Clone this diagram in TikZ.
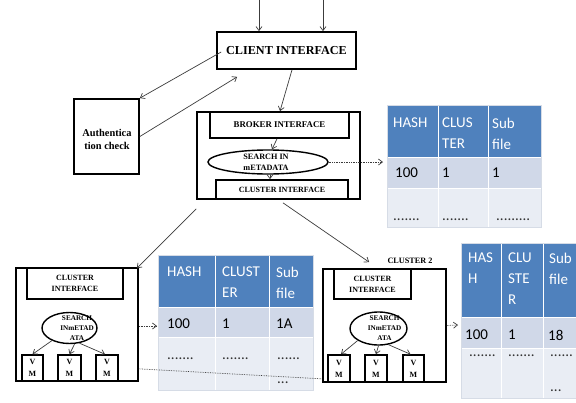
\documentclass[tikz,border=0pt]{standalone}
\usepackage{fontspec}
\setmainfont{Liberation Serif}
\newfontfamily\tabfont{Carlito}
\usetikzlibrary{arrows.meta,shapes.geometric,calc}
\definecolor{hdrblue}{HTML}{4F81BD}
\definecolor{rowa}{HTML}{D0D8E8}
\definecolor{rowb}{HTML}{E9EDF4}
\definecolor{wire}{HTML}{3C3C3C}
\definecolor{tabedge}{HTML}{D6DCE6}

\begin{document}
\begin{tikzpicture}[x=1pt,y=-1pt,
  box/.style={draw=black, line width=1.7pt, rectangle, inner sep=0pt, align=center},
  vmbox/.style={box, line width=1.5pt, minimum height=26pt, font=\bfseries\fontsize{8}{12}\selectfont},
  oval/.style={draw=black, line width=1.4pt, ellipse, inner sep=0pt},
  txt/.style={inner sep=0pt, align=center},
  link/.style={draw=wire, line width=0.7pt, -{Straight Barb[length=4pt,width=6pt]}},
  dotlink/.style={link, densely dotted},
  hdr/.style={inner sep=0pt, anchor=north west, align=left, text=white, font=\tabfont\fontsize{15}{21}\selectfont},
  cell/.style={inner sep=0pt, anchor=west, text=black, font=\tabfont\fontsize{15}{21}\selectfont},
  dots/.style={inner sep=0pt, anchor=north west, align=left, text=black!80, font=\tabfont\fontsize{15}{21}\selectfont},
]
\useasboundingbox (0,0) rectangle (576,402);
\fill[white] (0,0) rectangle (576,402);

% ---------------- client and authentication ----------------
\node[box, minimum width=139pt, minimum height=37pt, font=\bfseries\fontsize{12.2}{14}\selectfont] (client) at (286.5,50.5) {CLIENT INTERFACE};
\coordinate (inA) at (259,0);
\coordinate (inB) at (323,0);
\draw[link] (inA) -- (inA |- client.north);
\draw[link] (inB) -- (inB |- client.north);

\node[box, minimum width=65pt, minimum height=75pt] (auth) at (106.5,136.5) {};
\node[txt, font=\bfseries\fontsize{10.4}{13.5}\selectfont] (authtext) at (107,139.5) {Authentica\\tion check};

\draw[link] ($(client.west)+(5,1.5)$) -- (auth.north east);
\draw[link] ($(auth.east)+(0,0)$) -- ($(client.south west)+(21,7)$);

% ---------------- broker ----------------
\node[box, minimum width=163pt, minimum height=87pt] (broker) at (278.5,155.5) {};
\node[box, minimum width=139pt, minimum height=26pt, font=\bfseries\fontsize{8.8}{10}\selectfont] (brokerif) at (279.5,125) {BROKER INTERFACE};
\node[box, minimum width=132pt, minimum height=19pt, font=\bfseries\fontsize{8}{10}\selectfont] (bclusterif) at (282,189.5) {CLUSTER INTERFACE};
\node[oval, minimum width=120pt, minimum height=24pt] (bsearch) at (268,162) {};
\node[txt, font=\bfseries\fontsize{8.2}{11}\selectfont] (bsearchtext) at (266,162.5) {SEARCH IN\\mETADATA};

\draw[link] ($(client.south)+(5.5,0)$) -- ($(broker.north)+(1.5,0)$);
\draw[link] ($(brokerif.south)+(-2.5,0)$) -- ($(bsearch.north)+(4,0)$);
\draw[link] ($(bsearch.south)+(2,0)$) -- ($(bclusterif.north)+(-12,0)$);

% ---------------- table of the broker ----------------
\fill[hdrblue] (387,105) rectangle (541,157);
\fill[rowa] (387,157) rectangle (541,188);
\fill[rowb] (387,188) rectangle (541,227);
\draw[white, line width=1pt] (438,105) -- (438,227) (488,105) -- (488,227) (387,157) -- (541,157) (387,188) -- (541,188);
\draw[tabedge, line width=0.6pt] (387,105) rectangle (541,227);
\node[hdr] (t1h1) at (393,117.5) {HASH};
\node[hdr] (t1h2) at (442,117.5) {CLUS\\TER};
\node[hdr] (t1h3) at (492,117.5) {Sub\\file};
\node[cell] (t1a1) at (395,173) {100};
\node[cell] (t1a2) at (442,173) {1};
\node[cell] (t1a3) at (492,173) {1};
\node[dots] (t1b1) at (393,219) {.......};
\node[dots] (t1b2) at (442,219) {.......};
\node[dots] (t1b3) at (496,219) {.........};
\coordinate (t1in) at (383,162);
\draw[dotlink] (bsearch.east) -- (t1in);

% ---------------- cluster 1 ----------------
\node[box, minimum width=122pt, minimum height=113pt] (c1) at (77,324.5) {};
\node[box, minimum width=96pt, minimum height=31pt, font=\bfseries\fontsize{8}{11}\selectfont] (c1if) at (75,283.5) {CLUSTER\\INTERFACE};
\node[oval, minimum width=55pt, minimum height=31pt] (c1search) at (69.5,328) {};
\node[txt, font=\bfseries\fontsize{7.2}{10}\selectfont] (c1searchtext) at (77,328) {SEARCH\\INmETAD\\ATA};
\node[vmbox, minimum width=21pt] (c1vm1) at (32.5,368) {V\\M};
\node[vmbox, minimum width=23pt] (c1vm2) at (69.5,368) {V\\M};
\node[vmbox, minimum width=22pt] (c1vm3) at (107,368) {V\\M};
\draw[link] ($(c1search.south)+(-17,-4)$) -- (c1vm1.north);
\draw[link] ($(c1search.south)+(5,0)$) -- (c1vm2.north);
\draw[link] ($(c1search.south)+(10,-1)$) -- ($(c1vm3.north)+(-2,0)$);

\draw[link] ($(broker.south west)+(0,9)$) -- ($(c1.north east)+(-2,1)$);

% ---------------- table of cluster 1 ----------------
\fill[hdrblue] (158,255) rectangle (313,307);
\fill[rowa] (158,307) rectangle (313,337);
\fill[rowb] (158,337) rectangle (313,390);
\draw[white, line width=1pt] (215,255) -- (215,390) (269,255) -- (269,390) (158,307) -- (313,307) (158,337) -- (313,337);
\draw[tabedge, line width=0.6pt] (158,255) rectangle (313,390);
\node[hdr] (t2h1) at (167,266.5) {HASH};
\node[hdr] (t2h2) at (222,266.5) {CLUST\\ER};
\node[hdr] (t2h3) at (276,266.5) {Sub\\file};
\node[cell] (t2a1) at (167,324) {100};
\node[cell] (t2a2) at (222,324) {1};
\node[cell] (t2a3) at (276,324) {1A};
\node[dots] (t2b1) at (167,358) {.......};
\node[dots] (t2b2) at (222,358) {.......};
\node[dots] (t2b3) at (277,358) {......\\[3pt]...};
\coordinate (t2in) at (157,326);
\draw[dotlink] ($(c1.east)+(0,1.5)$) -- (t2in);

% ---------------- cluster 2 ----------------
\node[box, minimum width=123pt, minimum height=113pt] (c2) at (384.5,325.5) {};
\node[txt, font=\bfseries\fontsize{8.2}{10}\selectfont] (c2label) at (410,261) {CLUSTER 2};
\node[box, minimum width=77pt, minimum height=30pt, font=\bfseries\fontsize{8}{11}\selectfont] (c2if) at (372.5,284) {CLUSTER\\INTERFACE};
\node[oval, minimum width=57pt, minimum height=33pt] (c2search) at (378.5,328.5) {};
\node[txt, font=\bfseries\fontsize{7.2}{10}\selectfont] (c2searchtext) at (384.5,328.5) {SEARCH\\INmETAD\\ATA};
\node[vmbox, minimum width=22pt, minimum height=27pt] (c2vm1) at (339,368.5) {V\\M};
\node[vmbox, minimum width=22pt, minimum height=27pt] (c2vm2) at (376,368.5) {V\\M};
\node[vmbox, minimum width=21pt, minimum height=27pt] (c2vm3) at (413.5,368.5) {V\\M};
\draw[link] ($(c2search.south)+(-21,-5)$) -- ($(c2vm1.north)+(2,0)$);
\draw[link] ($(c2search.south)+(0,0)$) -- (c2vm2.north);
\draw[link] ($(c2search.south)+(10,-1)$) -- ($(c2vm3.north)+(-3,0)$);

\draw[link] ($(broker.south)+(4.5,3)$) -- ($(c2.north west)+(47,-6)$);

% dotted link between the two clusters
\draw[draw=wire, line width=0.7pt, densely dotted] ($(c1.south east)+(0,-13)$) -- ($(c2.south west)+(0,-4)$);

% ---------------- table of cluster 2 ----------------
\fill[hdrblue] (461,243) rectangle (578,317);
\fill[rowa] (461,317) rectangle (578,348);
\fill[rowb] (461,348) rectangle (578,398);
\draw[white, line width=1pt] (501,243) -- (501,398) (543,243) -- (543,398) (461,317) -- (578,317) (461,348) -- (578,348);
\draw[tabedge, line width=0.6pt] (461,243) rectangle (578,398);
\node[hdr] (t3h1) at (468,253) {HAS\\H};
\node[hdr] (t3h2) at (508,253) {CLU\\STE\\R};
\node[hdr] (t3h3) at (549,253) {Sub\\file};
\node[cell] (t3a1) at (465,335) {100};
\node[cell] (t3a2) at (508,335) {1};
\node[cell] (t3a3) at (548,335) {18};
\node[dots] (t3b1) at (469,355) {.......};
\node[dots] (t3b2) at (508,355) {.......};
\node[dots] (t3b3) at (550,355) {......\\[14pt]...};
\coordinate (t3in) at (458,325);
\draw[dotlink] (c2.east) -- (t3in);
\end{tikzpicture}
\end{document}
